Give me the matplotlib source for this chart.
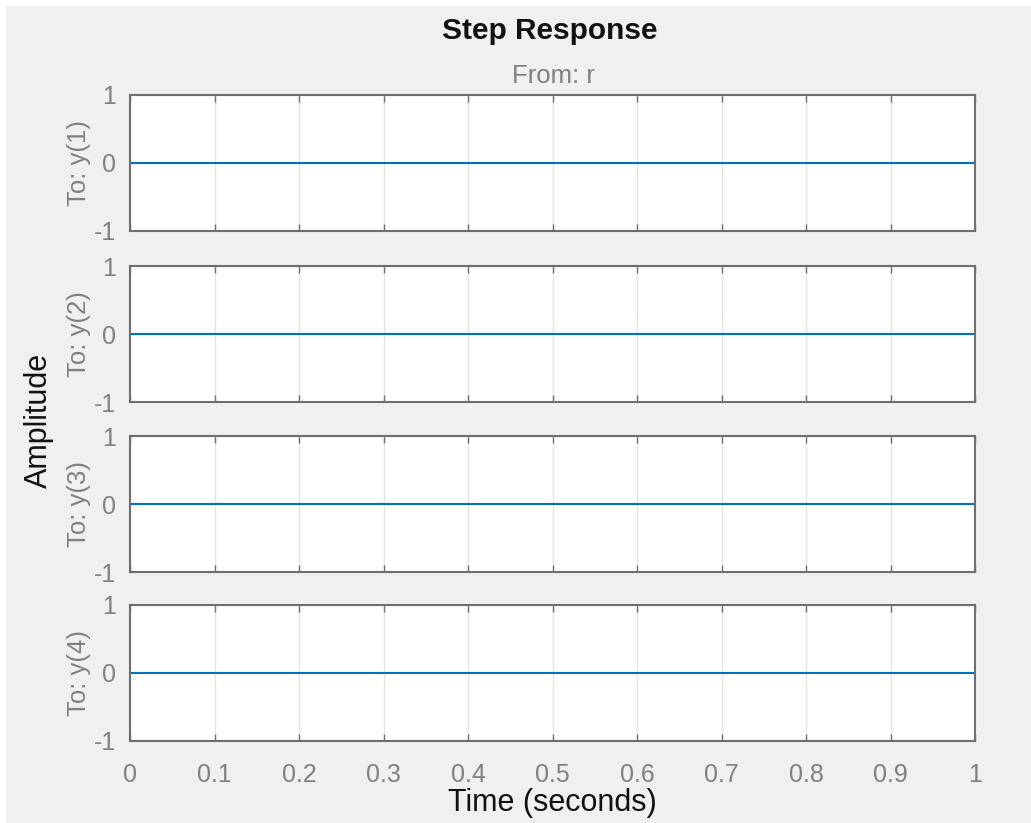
import numpy as np
import matplotlib
matplotlib.use('Agg')
import matplotlib.pyplot as plt
from matplotlib.patches import Rectangle

plt.rcParams['font.family'] = ['Liberation Sans', 'DejaVu Sans']
plt.rcParams['axes.unicode_minus'] = False

# data: step response of r -> y(1..4), all zero on [0, 1]
t = [0.0, 1.0]
outputs = ['y(1)', 'y(2)', 'y(3)', 'y(4)']
resp = {
    'y(1)': [0.0, 0.0],
    'y(2)': [0.0, 0.0],
    'y(3)': [0.0, 0.0],
    'y(4)': [0.0, 0.0],
}
xticks = [0, 0.1, 0.2, 0.3, 0.4, 0.5, 0.6, 0.7, 0.8, 0.9, 1]
xticklabels = ['0', '0.1', '0.2', '0.3', '0.4', '0.5', '0.6', '0.7', '0.8', '0.9', '1']
yticks = [-1, 0, 1]

W, H = 1031, 823
fig = plt.figure(figsize=(W/100, H/100), dpi=100, facecolor='white')
# gray matlab-style background with thin white border top/left
fig.patches.append(Rectangle((6/W, 0), 1-6/W, 1-6/H, transform=fig.transFigure,
                             facecolor='#f0f0f0', edgecolor='none', zorder=-10))

gray = '#808080'
edge = '#6e6e6e'
left = 130/W
width = 845/W
tops = [95, 266, 436, 605]
h = 136

axes = []
for i, name in enumerate(outputs):
    ax = fig.add_axes([left, 1-(tops[i]+h)/H, width, h/H])
    ax.plot(t, resp[name], color='#0072BD', lw=1.5)
    ax.set_xlim(0, 1)
    ax.set_ylim(-1, 1)
    ax.set_xticks(xticks)
    ax.set_yticks(yticks)
    ax.grid(True, color='#e3e3e3', lw=1.0)
    ax.set_axisbelow(True)
    for s in ax.spines.values():
        s.set_color(edge)
        s.set_linewidth(1.5)
    ax.tick_params(axis='both', direction='in', colors=edge, labelcolor=gray,
                   labelsize=18, length=5, width=1.0, top=True)
    ax.tick_params(axis='y', length=0, pad=10)
    if i < 3:
        ax.set_xticklabels([])
    else:
        ax.set_xticklabels(xticklabels)
        ax.tick_params(axis='x', pad=16)
    ax.set_ylabel('To: ' + name, fontsize=18.5, color=gray)
    ax.yaxis.set_label_coords(-0.046, 0.5)
    axes.append(ax)

fig.text(550/W, 1-31/H, 'Step Response', ha='center', va='center',
         fontsize=21.5, fontweight='bold', color='#111111')
fig.text(553/W, 1-76/H, 'From: r', ha='center', va='center',
         fontsize=18.5, color=gray)
fig.text(39/W, 1-420/H, 'Amplitude', ha='center', va='center', rotation=90,
         fontsize=22, color='#111111')
fig.text(552/W, 1-803/H, 'Time (seconds)', ha='center', va='center',
         fontsize=22, color='#111111')

plt.savefig('out.png', dpi=100, facecolor=fig.get_facecolor())
